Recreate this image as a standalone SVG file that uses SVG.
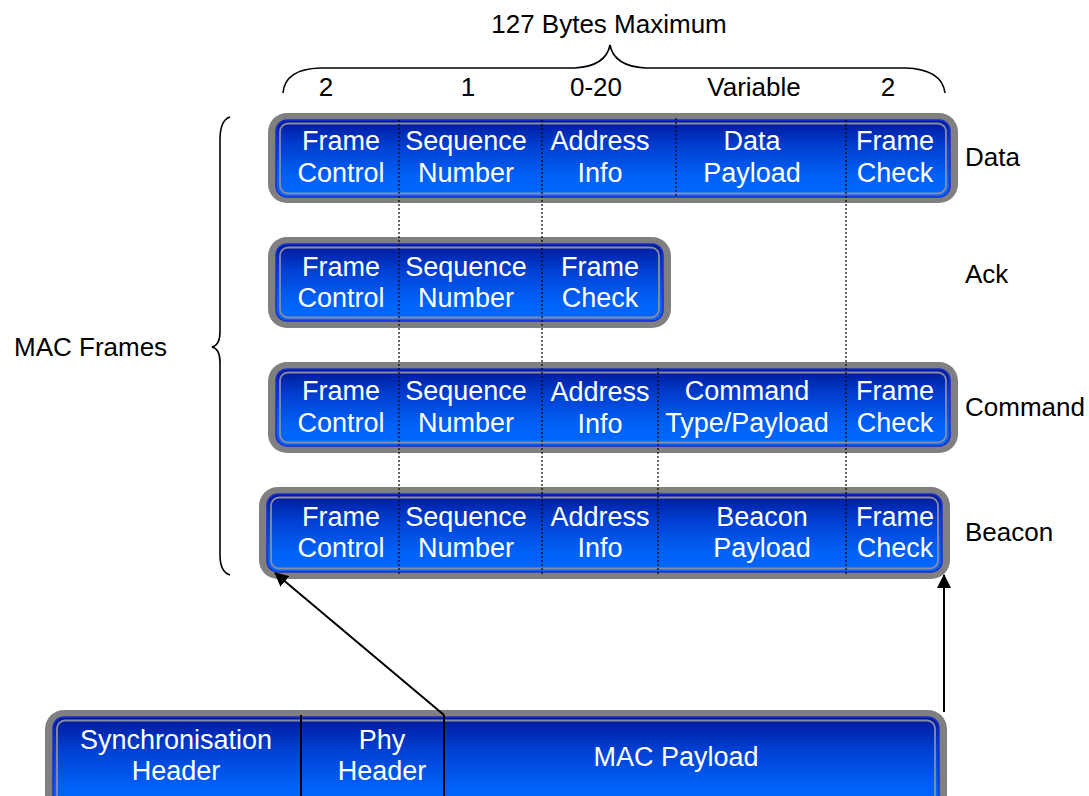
<svg xmlns="http://www.w3.org/2000/svg" width="1089" height="796" viewBox="0 0 1089 796">
<defs>
<linearGradient id="blue" x1="0" y1="0" x2="0" y2="1">
<stop offset="0" stop-color="#00189a"/>
<stop offset="0.35" stop-color="#0040d2"/>
<stop offset="0.75" stop-color="#0062f8"/>
<stop offset="1" stop-color="#0068ff"/>
</linearGradient>
<marker id="arr" viewBox="0 0 14 14" refX="13" refY="7" markerWidth="14" markerHeight="14" markerUnits="userSpaceOnUse" orient="auto">
<path d="M0,0 L14,7 L0,14 z" fill="#000"/>
</marker>
</defs>
<style>
.outer{fill:#808080}
.inner{fill:url(#blue);stroke:#1a2ecc;stroke-width:1.5}
.rim{fill:none;stroke:#8c8ca0;stroke-width:1.8}
.ft{font-family:"Liberation Sans",Arial,sans-serif;font-size:27px;fill:#fff;text-anchor:middle}
.lb{font-family:"Liberation Sans",Arial,sans-serif;font-size:26px;fill:#000}
.dot{stroke:#000;stroke-width:1.2;stroke-dasharray:2 2;fill:none}
.ln{stroke:#000;stroke-width:1.6;fill:none}
.ar{stroke:#000;stroke-width:2;fill:none}
</style>

<g id="top-brace">
<path class="ln" d="M283 93 Q285 69 320 68 L575 68 Q606 66 610 45 Q614 66 645 68 L905 68 Q942 69 945 93"/>
<text class="lb" x="609" y="33" text-anchor="middle">127 Bytes Maximum</text>
<text class="lb" x="326" y="96" text-anchor="middle">2</text>
<text class="lb" x="468" y="96" text-anchor="middle">1</text>
<text class="lb" x="596" y="96" text-anchor="middle">0-20</text>
<text class="lb" x="754" y="96" text-anchor="middle">Variable</text>
<text class="lb" x="888" y="96" text-anchor="middle">2</text>
</g>

<g id="left-brace">
<path class="ln" d="M230 117 Q220 120 220 140 L220 332 Q220 345 212 347 Q220 349 220 362 L220 555 Q220 572 230 575"/>
<text class="lb" x="14" y="356">MAC Frames</text>
</g>

<g id="frame-data">
<rect class="outer" x="268" y="113" width="690" height="90" rx="19"/>
<rect class="inner" x="276" y="120" width="674" height="77" rx="11"/>
<rect class="rim" x="280" y="123.5" width="666" height="70" rx="8"/>
<text class="ft" x="341" y="150">Frame</text><text class="ft" x="341" y="182">Control</text>
<text class="ft" x="466" y="150">Sequence</text><text class="ft" x="466" y="182">Number</text>
<text class="ft" x="600" y="150">Address</text><text class="ft" x="600" y="182">Info</text>
<text class="ft" x="752" y="150">Data</text><text class="ft" x="752" y="182">Payload</text>
<text class="ft" x="895" y="150">Frame</text><text class="ft" x="895" y="182">Check</text>
<text class="lb" x="965" y="166">Data</text>
</g>

<g id="frame-ack">
<rect class="outer" x="268" y="237" width="403" height="91" rx="19"/>
<rect class="inner" x="276" y="244" width="387" height="77" rx="11"/>
<rect class="rim" x="280" y="247.5" width="379" height="70" rx="8"/>
<text class="ft" x="341" y="276">Frame</text><text class="ft" x="341" y="307">Control</text>
<text class="ft" x="466" y="276">Sequence</text><text class="ft" x="466" y="307">Number</text>
<text class="ft" x="600" y="276">Frame</text><text class="ft" x="600" y="307">Check</text>
<text class="lb" x="965" y="283">Ack</text>
</g>

<g id="frame-command">
<rect class="outer" x="268" y="362" width="690" height="91" rx="19"/>
<rect class="inner" x="276" y="369" width="674" height="77" rx="11"/>
<rect class="rim" x="280" y="372.5" width="666" height="70" rx="8"/>
<text class="ft" x="341" y="400">Frame</text><text class="ft" x="341" y="432">Control</text>
<text class="ft" x="466" y="400">Sequence</text><text class="ft" x="466" y="432">Number</text>
<text class="ft" x="600" y="401">Address</text><text class="ft" x="600" y="433">Info</text>
<text class="ft" x="747" y="400">Command</text><text class="ft" x="747" y="432">Type/Payload</text>
<text class="ft" x="895" y="400">Frame</text><text class="ft" x="895" y="432">Check</text>
<text class="lb" x="965" y="416">Command</text>
</g>

<g id="frame-beacon">
<rect class="outer" x="259" y="487" width="691" height="92" rx="19"/>
<rect class="inner" x="267" y="494" width="675" height="78" rx="11"/>
<rect class="rim" x="271" y="497.5" width="667" height="71" rx="8"/>
<text class="ft" x="341" y="526">Frame</text><text class="ft" x="341" y="557">Control</text>
<text class="ft" x="466" y="526">Sequence</text><text class="ft" x="466" y="557">Number</text>
<text class="ft" x="600" y="526">Address</text><text class="ft" x="600" y="557">Info</text>
<text class="ft" x="762" y="526">Beacon</text><text class="ft" x="762" y="557">Payload</text>
<text class="ft" x="895" y="526">Frame</text><text class="ft" x="895" y="557">Check</text>
<text class="lb" x="965" y="541">Beacon</text>
</g>

<g id="frame-phy">
<rect class="outer" x="45" y="710" width="902" height="110" rx="19"/>
<rect class="inner" x="53" y="717" width="886" height="95" rx="11"/>
<rect class="rim" x="57" y="720.5" width="878" height="88" rx="8"/>
<text class="ft" x="176" y="749">Synchronisation</text><text class="ft" x="176" y="780">Header</text>
<text class="ft" x="382" y="749">Phy</text><text class="ft" x="382" y="780">Header</text>
<text class="ft" x="676" y="766">MAC Payload</text>
</g>

<g id="connectors">
<line class="dot" x1="399" y1="120" x2="399" y2="575"/>
<line class="dot" x1="542" y1="120" x2="542" y2="575"/>
<line class="dot" x1="846" y1="120" x2="846" y2="575"/>
<line class="dot" x1="676" y1="118" x2="676" y2="198"/>
<line class="dot" x1="658" y1="368" x2="658" y2="575"/>
<line class="ar" x1="301" y1="715" x2="301" y2="796"/>
<line class="ar" x1="444" y1="715" x2="444" y2="796"/>
<line class="ar" x1="444" y1="715" x2="275" y2="573" marker-end="url(#arr)"/>
<line class="ar" x1="944" y1="712" x2="944" y2="575" marker-end="url(#arr)"/>
</g>
</svg>
